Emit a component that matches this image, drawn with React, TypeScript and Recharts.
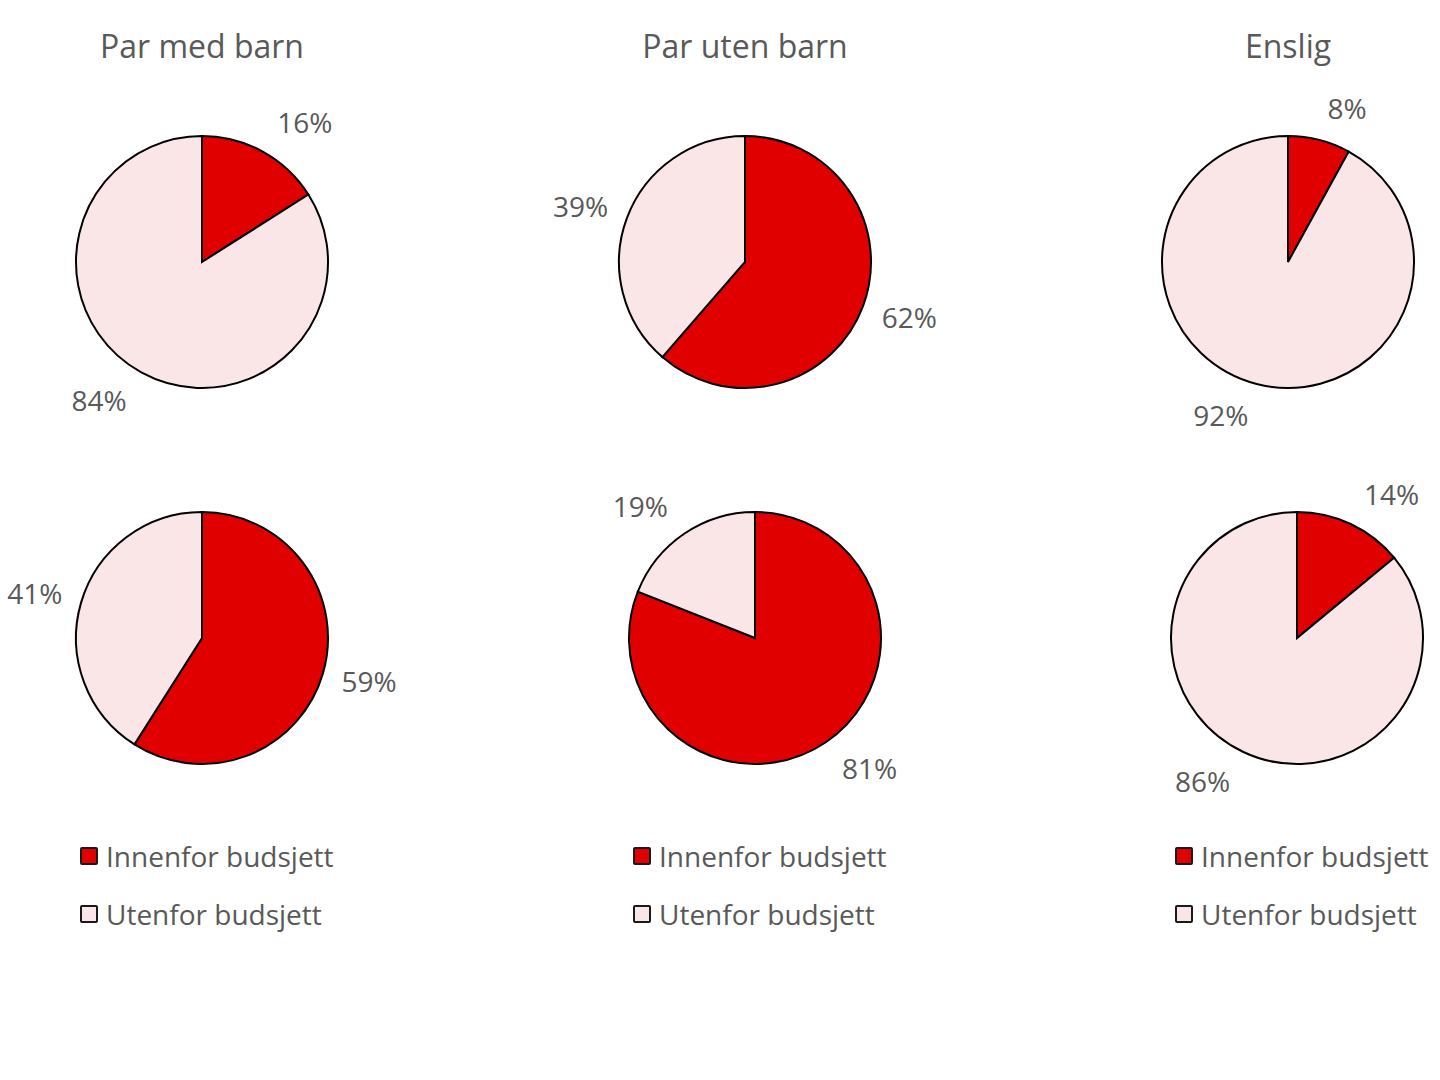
import { PieChart, Pie, Cell, Legend } from 'recharts';

const groups = ['Par med barn', 'Par uten barn', 'Enslig'];
const seriesNames = ['Innenfor budsjett', 'Utenfor budsjett'];
const innenforTop = [16, 62, 8];
const utenforTop = [84, 39, 92];
const innenforBottom = [59, 81, 14];
const utenforBottom = [41, 19, 86];

const COLORS = ['#e00000', '#fae6e6'];
const TEXT = '#595959';
const FONT = '"Open Sans", sans-serif';

// where each column chart sits and where its two pies are centred
const colLeft = [0, 480, 960];
const topCx = [202, 265, 328];
const bottomCx = [202, 275, 337];

const makeData = (a: number, b: number) => [
  { name: seriesNames[0], value: a },
  { name: seriesNames[1], value: b },
];

const RAD = Math.PI / 180;

const renderLabel = (p: any) => {
  const c = Math.cos(-p.midAngle * RAD);
  const s = Math.sin(-p.midAngle * RAD);
  const dx = p.outerRadius + 34 - 16 * c * c;
  const x = p.cx + dx * c;
  const y = p.cy + (p.outerRadius + 32.5) * s + 2.5;
  return (
    <text
      x={x}
      y={y}
      dy={7.6}
      textAnchor={c >= 0 ? 'start' : 'end'}
      fill={TEXT}
      fontSize={28}
      fontFamily={FONT}
    >
      {p.value}%
    </text>
  );
};

const LegendContent = ({ payload }: any) => {
  const seen = new Set<string>();
  const items = (payload || []).filter((e: any) => {
    if (seen.has(e.value)) return false;
    seen.add(e.value);
    return true;
  });
  return (
    <div>
      {items.map((e: any, i: number) => (
        <div key={e.value} style={{ display: 'flex', alignItems: 'center', height: 58 }}>
          <span
            style={{
              display: 'inline-block',
              width: 14,
              height: 14,
              border: '2px solid #1a1a1a',
              borderRadius: 2,
              background: COLORS[i],
              marginRight: 8,
            }}
          />
          <span style={{ fontSize: 28, color: TEXT, fontFamily: FONT }}>{e.value}</span>
        </div>
      ))}
    </div>
  );
};

function Column({ i }: { i: number }) {
  return (
    <div style={{ position: 'absolute', left: colLeft[i], top: 0, width: 480, height: 1080 }}>
      <div
        style={{
          position: 'absolute',
          left: topCx[i] - 200,
          width: 400,
          top: 29.5,
          textAlign: 'center',
          fontSize: 32,
          lineHeight: '32px',
          color: TEXT,
          fontFamily: FONT,
        }}
      >
        {groups[i]}
      </div>
      <PieChart width={480} height={1080} margin={{ top: 0, right: 0, bottom: 0, left: 0 }}>
        <Pie
          data={makeData(innenforTop[i], utenforTop[i])}
          dataKey="value"
          nameKey="name"
          cx={topCx[i]}
          cy={262}
          outerRadius={126}
          startAngle={90}
          endAngle={-270}
          stroke="#000"
          strokeWidth={2}
          label={renderLabel}
          labelLine={false}
          isAnimationActive={false}
        >
          {COLORS.map((c) => (
            <Cell key={c} fill={c} />
          ))}
        </Pie>
        <Pie
          data={makeData(innenforBottom[i], utenforBottom[i])}
          dataKey="value"
          nameKey="name"
          cx={bottomCx[i]}
          cy={638}
          outerRadius={126}
          startAngle={90}
          endAngle={-270}
          stroke="#000"
          strokeWidth={2}
          label={renderLabel}
          labelLine={false}
          legendType="none"
          isAnimationActive={false}
        >
          {COLORS.map((c) => (
            <Cell key={c} fill={c} />
          ))}
        </Pie>
        <Legend
          layout="vertical"
          align="center"
          verticalAlign="middle"
          width={400}
          height={116}
          wrapperStyle={{ left: bottomCx[i] - 122, top: 827 }}
          content={<LegendContent />}
        />
      </PieChart>
    </div>
  );
}

export default function App() {
  return (
    <div
      style={{
        position: 'absolute',
        left: 0,
        top: 0,
        width: 1440,
        height: 1080,
        background: '#fff',
        fontFamily: FONT,
      }}
    >
      {[0, 1, 2].map((i) => (
        <Column key={i} i={i} />
      ))}
    </div>
  );
}
